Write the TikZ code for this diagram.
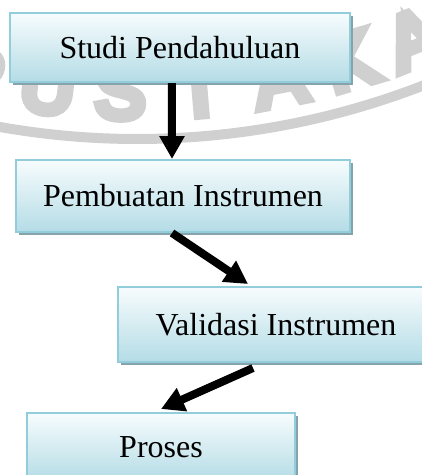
\documentclass[tikz,border=0pt]{standalone}
\usepackage{fontspec}
\setmainfont{Liberation Serif}
\newfontfamily\wmfont[FakeBold=12]{Liberation Sans}
\usetikzlibrary{arrows.meta,shadows}
\definecolor{boxtop}{HTML}{F7FCFD}
\definecolor{boxbot}{HTML}{B4DCE6}
\definecolor{boxline}{HTML}{92CDDC}
\definecolor{boxshade}{HTML}{86A3AB}
\definecolor{wmark}{HTML}{D0D0D0}
\begin{document}
\begin{tikzpicture}[x=0.4pt,y=0.4pt,>={Triangle[width=9.6pt,length=9.2pt]},
		stage/.style={draw=boxline,line width=0.8pt,top color=boxtop,bottom color=boxbot,
			drop shadow={shadow xshift=1.2pt,shadow yshift=-1.2pt,fill=boxshade,opacity=1},
			font=\fontsize{12.8}{15}\selectfont,inner sep=0pt},
		flow/.style={->,line width=3.2pt},
		wm/.style={text=wmark,inner sep=0pt,font=\wmfont\fontsize{30}{30}\selectfont}]
		\useasboundingbox (0,0) rectangle (422,-475);
		\clip (0,0) rectangle (422,-475);
		% watermark
		\coordinate (wmc) at (137.3,652);
		\draw[wmark,line width=4pt] ([shift={(255:791)}]wmc) arc[start angle=255,end angle=300,radius=791];
		\foreach \ch/\ang [count=\i] in {P/257.6,U/263.1,S/268.7,T/274.8,A/281,K/286.6,A/291.8}
			\node[wm,rotate=\ang+90] (wm\i) at ([shift={(\ang:744)}]wmc) {\ch};
		% stages
		\node[stage,minimum width=136pt,minimum height=27.6pt] (studi) at (180,-47.5) {Studi Pendahuluan};
		\node[stage,minimum width=133.6pt,minimum height=28.8pt] (buat) at (183,-196) {Pembuatan Instrumen};
		\node[stage,minimum width=126.4pt,minimum height=30pt] (valid) at (276,-324.5) {Validasi Instrumen};
		\node[stage,minimum width=107.2pt,minimum height=27.2pt] (proses) at (161,-447) {Proses};
		% arrows
		\draw[flow] ([xshift=-3.2pt]studi.south) -- ([xshift=-4.4pt]buat.north);
		\draw[flow] ([xshift=-4.4pt]buat.south) -- ([xshift=-11.2pt,yshift=0.8pt]valid.north);
		\draw[flow] ([xshift=-9.2pt,yshift=-2pt]valid.south) -- ([yshift=1.2pt]proses.north);
	\end{tikzpicture}
\end{document}
